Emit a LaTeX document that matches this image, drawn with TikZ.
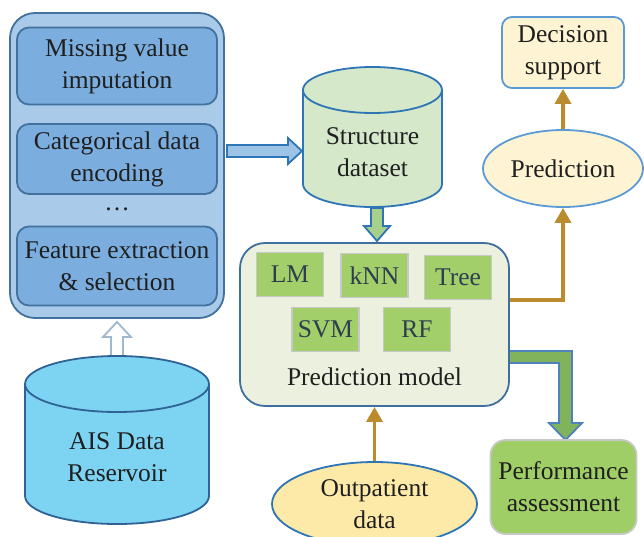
\documentclass[tikz,border=0pt]{standalone}
\usepackage{fontspec}
\setmainfont{Liberation Serif}
\usetikzlibrary{shapes.geometric,arrows.meta,calc}
\definecolor{outerblue}{HTML}{A9CAE8}
\definecolor{innerblue}{HTML}{7BAEDE}
\definecolor{boxedge}{HTML}{41719C}
\definecolor{aisfill}{HTML}{7DD3F2}
\definecolor{aisedge}{HTML}{2F6396}
\definecolor{structfill}{HTML}{D5E8C9}
\definecolor{vivblue}{HTML}{2E75B6}
\definecolor{pmfill}{HTML}{EBF1DE}
\definecolor{pmedge}{HTML}{3E6F9E}
\definecolor{mlgreen}{HTML}{A2CF6A}
\definecolor{mlgray}{HTML}{C8C8C8}
\definecolor{slatetxt}{HTML}{2F3E4E}
\definecolor{goldline}{HTML}{BA8C2E}
\definecolor{creamfill}{HTML}{FEF4D4}
\definecolor{lightedge}{HTML}{5B9BD5}
\definecolor{outpfill}{HTML}{FDE9A8}
\definecolor{perffill}{HTML}{9FCD66}
\definecolor{elbowgreen}{HTML}{80B35C}
\definecolor{elbowedge}{HTML}{4F81BD}
\definecolor{downgreen}{HTML}{A8D08D}
\definecolor{rightblue}{HTML}{9DC3E6}
\definecolor{hollowedge}{HTML}{9FB8D0}
\begin{document}
\begin{tikzpicture}[x=1pt,y=-1pt,
  txt/.style={font=\fontsize{25.5}{32}\selectfont,align=center,text=black!88},
  bluebox/.style={txt,draw=boxedge,fill=innerblue,line width=1.8pt,rounded corners=12pt,minimum width=200pt},
  gbox/.style={font=\fontsize{25.5}{32}\selectfont,fill=mlgreen,draw=mlgray,line width=1.8pt,minimum width=67pt,minimum height=44pt,text=slatetxt},
  goldarrow/.style={draw=goldline,line width=3.5pt,-{Triangle[length=15pt,width=16pt]}},
  blockarrow/.style={line width=1.8pt,line join=miter}
]
\useasboundingbox (0,0) rectangle (644,536);

% left preprocessing panel
\node[draw=boxedge,fill=outerblue,line width=1.8pt,rounded corners=25pt,minimum width=214pt,minimum height=305pt] (outer) at (117,165.5) {};
\node[bluebox,minimum height=77pt] (miss) at (117,66) {Missing value\\imputation};
\node[bluebox,minimum height=70pt] (cat) at (117,159) {Categorical data\\encoding};
\node[txt] (dots) at (117,209) {\dots};
\node[bluebox,minimum height=79pt] (feat) at (117,266) {Feature extraction\\\& selection};

% hollow up arrow
\draw[blockarrow,draw=hollowedge,fill=white] (111,356) -- (111,337) -- (103,337) -- (117,322) -- (131,337) -- (123,337) -- (123,356) -- cycle;

% AIS cylinder
\node[minimum width=184pt,minimum height=168pt] (ais) at (117,440) {};
\draw[line width=1.8pt,draw=aisedge,fill=aisfill] (25,384) -- (25,496) arc[start angle=180,end angle=360,x radius=92pt,y radius=28pt] -- (209,384) arc[start angle=0,end angle=180,x radius=92pt,y radius=28pt] -- cycle;
\draw[line width=1.8pt,draw=aisedge] (25,384) arc[start angle=180,end angle=360,x radius=92pt,y radius=28pt];
\node[txt] (aistext) at (117,457) {AIS Data\\Reservoir};

% right blue arrow
\draw[blockarrow,draw=vivblue,fill=rightblue] (227,145) -- (288,145) -- (288,138) -- (302,151) -- (288,164) -- (288,157) -- (227,157) -- cycle;

% structure dataset cylinder
\node[minimum width=139pt,minimum height=140pt] (struct) at (372.5,137) {};
\draw[line width=1.8pt,draw=vivblue,fill=structfill] (303,90) -- (303,184) arc[start angle=180,end angle=360,x radius=69.5pt,y radius=23pt] -- (442,90) arc[start angle=0,end angle=180,x radius=69.5pt,y radius=23pt] -- cycle;
\draw[line width=1.8pt,draw=vivblue] (303,90) arc[start angle=180,end angle=360,x radius=69.5pt,y radius=23pt];
\node[txt] (stext) at (372.5,152) {Structure\\dataset};

% down arrow
\draw[blockarrow,draw=vivblue,fill=downgreen] (371,208) -- (383,208) -- (383,226) -- (390,226) -- (377,241) -- (364,226) -- (371,226) -- cycle;

% green elbow arrow
\draw[blockarrow,draw=elbowedge,fill=elbowgreen] (495,351) -- (572,351) -- (572,423) -- (582,423) -- (565.5,440) -- (549,423) -- (559,423) -- (559,363) -- (495,363) -- cycle;

% prediction model
\node[draw=pmedge,fill=pmfill,line width=1.8pt,rounded corners=25pt,minimum width=269pt,minimum height=163pt] (pm) at (374.5,324.5) {};
\node[gbox] (lm) at (290,274.5) {LM};
\node[gbox] (knn) at (374.5,275.5) {kNN};
\node[gbox] (tree) at (458,277.5) {Tree};
\node[gbox] (svm) at (325.5,329.5) {SVM};
\node[gbox] (rf) at (417,329.5) {RF};
\node[txt] (pmtext) at (374.5,377) {Prediction model};

% prediction & decision
\node[txt,ellipse,draw=lightedge,fill=creamfill,line width=1.8pt,minimum width=160pt,minimum height=77pt,inner sep=0pt] (pred) at (563,168.5) {Prediction};
\node[txt,draw=lightedge,fill=creamfill,line width=1.8pt,rounded corners=10pt,minimum width=122pt,minimum height=71pt,inner sep=0pt] (dec) at (563,52.5) {Decision\\support};

% performance
\node[txt,draw=mlgray,fill=perffill,line width=1.8pt,rounded corners=15pt,minimum width=146pt,minimum height=94pt,inner sep=0pt] (perf) at (563.5,487) {Performance\\assessment};

% outpatient
\node[txt,ellipse,draw=vivblue,fill=outpfill,line width=1.8pt,minimum width=205pt,minimum height=84pt,inner sep=0pt] (outp) at (374.5,504) {Outpatient\\data};

% gold connectors
\draw[goldarrow] ([yshift=24.5pt]pm.east) -| (pred.south);
\draw[goldarrow] (pred.north) -- (dec.south);
\draw[goldarrow] (outp.north) -- (pm.south);
\end{tikzpicture}
\end{document}
